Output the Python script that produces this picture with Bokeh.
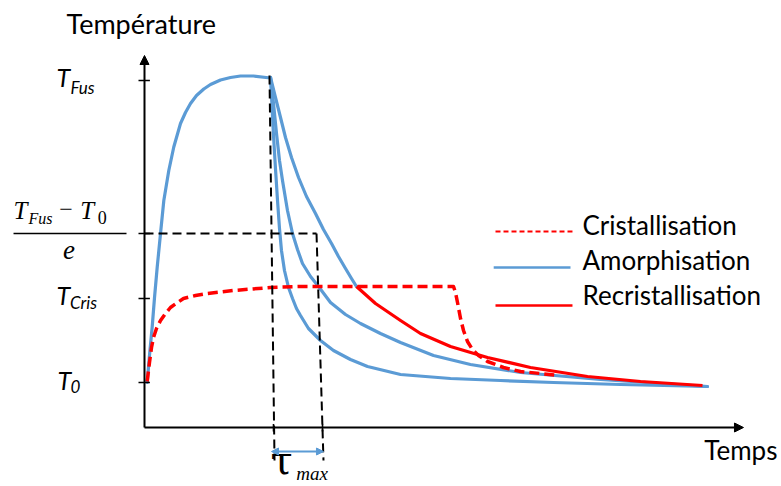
from bokeh.plotting import figure
from bokeh.models import Range1d, Arrow, NormalHead
from bokeh.core.properties import value
from bokeh.embed import file_html
from bokeh.resources import INLINE

# ---------------- data (time and temperature in arbitrary schematic units) -------------
# heating up to melting (amorphisation, blue)
heat_t = [0.045, 0.083, 0.128, 0.167, 0.212, 0.267, 0.322, 0.405, 0.488, 0.60, 0.683, 0.767,
          0.867, 0.988, 1.10, 1.267, 1.433, 1.60, 1.817, 2.10]
heat_T = [20, 74, 131, 190, 251, 318, 384, 444, 491, 538, 560, 578, 594, 607, 616, 625, 630,
          633, 633, 629]
# fast quench (blue)
fast_t = [2.10, 2.125, 2.15, 2.183, 2.217, 2.25, 2.283, 2.333, 2.40, 2.467, 2.533, 2.60, 2.733,
          2.933, 3.15, 3.433, 3.717, 4.267, 5.10, 5.933, 6.817, 7.933, 9.383]
fast_T = [630, 574, 514, 448, 384, 328, 284, 244, 210, 188, 168, 154, 128, 104, 84, 66, 52, 36,
          28, 24, 20, 16, 12]
# intermediate quench (blue)
mid_t = [2.10, 2.15, 2.20, 2.25, 2.30, 2.383, 2.467, 2.55, 2.633, 2.767, 2.90, 3.10, 3.35, 3.60,
         3.933, 4.267, 4.817, 5.433, 6.267, 7.60, 9.383]
mid_T = [630, 578, 518, 464, 424, 364, 318, 286, 258, 232, 212, 180, 156, 138, 118, 100, 74, 56,
         40, 26, 12]
# slow quench (blue, until recrystallisation starts)
slow_t = [2.10, 2.183, 2.267, 2.35, 2.45, 2.567, 2.70, 2.85, 2.983, 3.117, 3.233, 3.35, 3.45,
          3.533]
slow_T = [630, 590, 550, 510, 470, 430, 392, 358, 326, 298, 272, 248, 228, 212]
# recrystallisation (red solid)
recr_t = [3.533, 3.85, 4.267, 4.60, 5.10, 5.717, 6.433, 7.383, 8.267, 9.30]
recr_T = [212, 178, 144, 118, 92, 70, 50, 32, 22, 14]
# crystallisation (red dashed)
crist_t = [0.045, 0.083, 0.117, 0.15, 0.20, 0.267, 0.35, 0.433, 0.55, 0.65, 0.85, 1.05, 1.483,
           2.10, 2.60, 5.15, 5.183, 5.217, 5.267, 5.317, 5.383, 5.467, 5.567, 5.717, 5.983,
           6.267, 6.60, 6.90]
crist_T = [22, 60, 90, 110, 128, 144, 158, 170, 180, 188, 194, 198, 204, 210, 212, 212, 200, 180,
           148, 124, 102, 86, 74, 62, 50, 42, 38, 34]

# characteristic temperatures (y ticks) and times (x ticks)
T_0 = 20
T_CRIS = 188
T_E = 318          # (T_Fus - T_0)/e level
T_FUS = 624
y_tick_values = [T_FUS, T_E, T_CRIS, T_0]
tau_start = 2.15
tau_end = 2.967
x_tick_values = [tau_start, tau_end]

legend_labels = ["Cristallisation", "Amorphisation", "Recristallisation"]
x_title = "Temps"
y_title = "Température"

BLUE = "#5B9BD5"
RED = "#FF0000"

# axis frame (data units)
T_AXIS = -70
T_TOP = 674
T_END = 9.983

p = figure(width=781, height=486,
           x_range=Range1d(-2.4, 10.6167), y_range=Range1d(-188, 784),
           x_axis_type=None, y_axis_type=None,
           output_backend="svg", toolbar_location=None,
           min_border=0, min_border_left=0, min_border_right=0,
           min_border_top=0, min_border_bottom=0)
p.grid.visible = False
p.outline_line_color = None
p.background_fill_color = "white"
p.border_fill_color = "white"

# ---- curves ----
for xs, ys in [(heat_t, heat_T), (fast_t, fast_T), (mid_t, mid_T), (slow_t, slow_T)]:
    p.line(xs, ys, line_color=BLUE, line_width=3.2, line_join="round", line_cap="round")
p.line(recr_t, recr_T, line_color=RED, line_width=3.2, line_join="round")
p.line(crist_t, crist_T, line_color=RED, line_width=3.5, line_dash="10 5", line_join="round")

# ---- guides (black dashed) ----
guide_x0 = [2.083, 2.867, 0.0]
guide_y0 = [634, T_E, T_E]
guide_x1 = [2.167, 2.983, 2.867]
guide_y1 = [-136, -136, T_E]
p.segment(guide_x0, guide_y0, guide_x1, guide_y1, line_color="black", line_width=2,
          line_dash="9 5")

# ---- axes ----
p.add_layout(Arrow(end=NormalHead(size=9, line_color="black", fill_color="black"),
                   x_start=0, y_start=T_AXIS, x_end=0, y_end=T_TOP,
                   line_color="black", line_width=2))
p.add_layout(Arrow(end=NormalHead(size=9, line_color="black", fill_color="black"),
                   x_start=0, y_start=T_AXIS, x_end=T_END, y_end=T_AXIS,
                   line_color="black", line_width=2))
p.segment([-0.1] * 4, y_tick_values, [0.09] * 4, y_tick_values, line_color="black", line_width=1.6)
p.segment(x_tick_values, [T_AXIS + 7] * 2, x_tick_values, [T_AXIS - 8] * 2,
          line_color="black", line_width=1.6)

# tau_max double arrow
p.add_layout(Arrow(start=NormalHead(size=7, line_color=BLUE, fill_color=BLUE),
                   end=NormalHead(size=7, line_color=BLUE, fill_color=BLUE),
                   x_start=2.117, y_start=-118, x_end=2.983, y_end=-118,
                   line_color=BLUE, line_width=2))

# ---- texts ----
SANS = value("Lato")
SERIF = value("Liberation Serif")
UNITS_PER_PX = 2.0

def txt(x, y, s, size, font=SANS, style="normal", align="left"):
    # y is the wanted baseline; lift compensates the renderer's baseline placement
    lift = 0.42 * size * UNITS_PER_PX
    p.text([x], [y + lift], text=[s], text_font=font, text_font_size=value(f"{size}px"),
           text_font_style=style, text_align=align, text_baseline="alphabetic",
           text_color="black")

txt(-1.30, 716, y_title, 27)
txt(9.33, -136, x_title, 26)

# T_Fus
txt(-1.467, 610, "T", 25, style="italic")
txt(-1.233, 596, "Fus", 17, style="italic")
# fraction (T_Fus - T_0)/e
txt(-2.183, 344, "T", 25, font=SERIF, style="italic")
txt(-1.933, 334, "Fus", 16, font=SERIF, style="italic")
txt(-1.42, 346, "\u2212", 24, font=SERIF)
txt(-1.07, 344, "T", 25, font=SERIF, style="italic")
txt(-0.78, 334, "0", 18, font=SERIF)
p.segment([-2.183], [T_E], [-0.30], [T_E], line_color="black", line_width=1.5)
txt(-1.258, 262, "e", 27, font=SERIF, style="italic", align="center")
# T_Cris
txt(-1.467, 174, "T", 25, style="italic")
txt(-1.242, 166, "Cris", 17, style="italic")
# T_0
txt(-1.45, 4, "T", 25, style="italic")
txt(-1.233, -2, "0", 17, style="italic")
# tau_max
txt(2.10, -168, "\u03c4", 40, font=value("DejaVu Serif"))
txt(2.53, -178, "max", 19, font=SERIF, style="italic")

# ---- legend ----
leg_line_T = [322, 250, 174]
leg_text_T = [314, 244, 174]
p.segment([5.85], [leg_line_T[0]], [7.133], [leg_line_T[0]], line_color=RED, line_width=2.2,
          line_dash="5 3")
p.segment([5.82], [leg_line_T[1]], [7.10], [leg_line_T[1]], line_color=BLUE, line_width=2.5)
p.segment([5.85], [leg_line_T[2]], [7.133], [leg_line_T[2]], line_color=RED, line_width=2.5)
for lt, lab in zip(leg_text_T, legend_labels):
    txt(7.30, lt, lab, 26)

open("out.html", "w").write(file_html(p, INLINE))
